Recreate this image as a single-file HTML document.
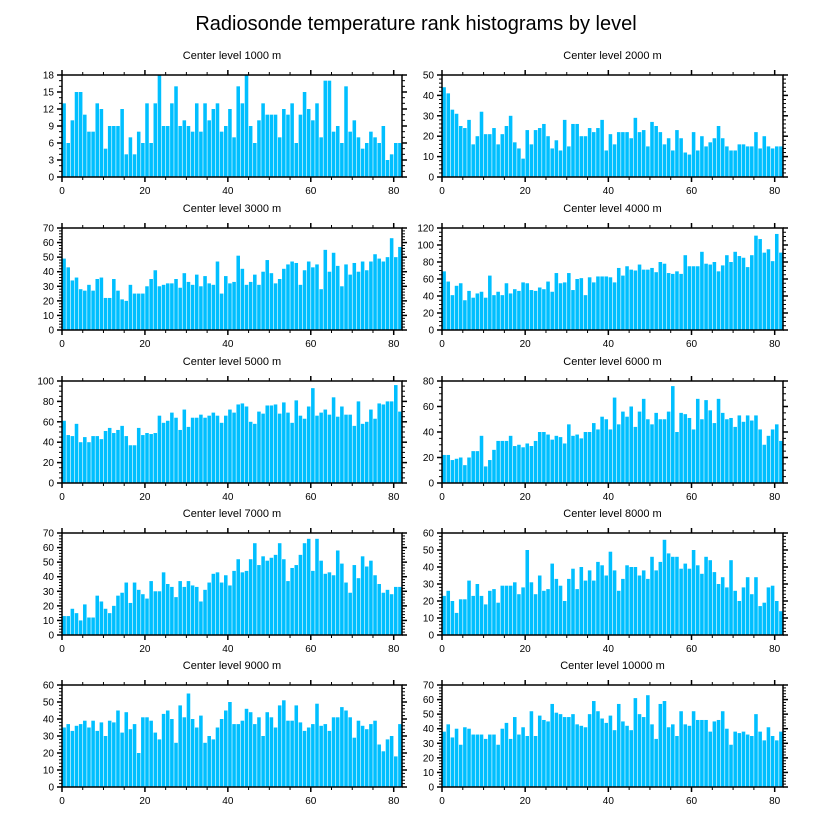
<!DOCTYPE html>
<html><head><meta charset="utf-8"><style>
html,body{margin:0;padding:0;background:#fff;}
svg{display:block;font-family:"Liberation Sans",sans-serif;}
</style></head><body>
<svg id="chart" width="822" height="824" viewBox="0 0 822 824" xmlns="http://www.w3.org/2000/svg">
<rect width="822" height="824" fill="#fff"/>
<text x="416" y="30" text-anchor="middle" font-size="20">Radiosonde temperature rank histograms by level</text>
</svg>
<script>
const levels = [1000,2000,3000,4000,5000,6000,7000,8000,9000,10000];
const yMax = [18,50,70,120,100,80,70,60,60,70];
const yStep = [3,10,10,20,20,20,10,10,10,10];
const xTicks = [0,20,40,60,80];
const s1000 = [13,6,10,15,15,11,8,8,13,12,5,9,9,9,12,4,7,4,8,6,13,6,13,18,9,9,13,16,9,10,9,8,13,8,13,10,12,13,8,9,12,7,16,13,18,9,6,10,13,11,11,11,7,12,11,13,6,11,15,12,10,13,7,17,17,8,9,6,16,8,10,7,5,6,8,7,6,9,3,4,6,6];
const s2000 = [44,41,33,31,25,24,28,16,20,32,21,21,24,16,21,25,30,17,14,9,23,16,23,24,26,20,14,18,13,28,15,26,26,20,20,24,22,24,28,13,21,16,22,22,22,19,29,22,23,15,27,25,22,16,19,13,23,19,12,11,22,13,20,15,17,19,25,19,15,13,13,16,16,15,15,22,14,20,15,14,15,15];
const s3000 = [49,43,34,36,28,27,31,27,35,36,22,22,35,27,21,20,31,25,25,25,30,35,41,30,31,32,32,35,29,39,33,31,38,30,37,32,31,47,25,37,32,33,51,42,31,33,38,31,40,48,39,32,35,42,45,47,46,31,41,47,43,45,28,55,40,53,44,30,45,38,46,40,47,41,47,52,49,47,50,63,50,57];
const s4000 = [69,57,41,52,55,35,46,38,43,45,38,64,41,45,41,55,43,48,46,56,55,47,46,50,48,57,45,67,55,56,67,47,60,61,41,62,56,63,63,63,62,56,73,64,75,71,70,77,71,71,73,68,80,78,67,66,69,66,88,75,75,75,92,78,77,80,69,76,88,80,92,87,85,74,88,111,107,91,95,81,113,91];
const s5000 = [61,47,46,58,40,45,40,46,46,43,51,54,49,52,56,46,37,37,54,47,49,48,49,66,59,61,69,64,52,72,55,64,64,67,64,66,69,66,59,66,72,69,77,78,75,60,58,70,68,76,76,77,68,79,69,59,81,66,63,75,93,66,69,72,67,84,65,75,67,67,56,80,58,60,72,63,78,77,80,80,96,70];
const s6000 = [22,22,18,19,20,14,20,25,25,37,13,18,26,33,33,33,37,29,30,28,31,29,33,40,40,38,34,37,36,31,46,37,38,35,40,40,47,42,52,50,42,67,46,56,52,60,44,56,66,50,46,55,50,50,56,76,40,55,54,51,42,66,50,65,57,47,66,55,50,51,44,53,48,53,49,53,42,30,37,42,46,33];
const s7000 = [13,13,18,15,10,21,12,12,27,23,18,15,20,27,29,36,22,36,31,28,25,37,30,30,43,35,33,26,37,33,37,34,33,23,31,36,42,43,36,41,34,44,52,43,44,52,63,48,54,51,53,55,63,52,37,46,48,55,63,66,44,66,51,42,43,41,58,49,36,29,48,39,54,47,51,41,35,29,31,28,33,33];
const s8000 = [23,26,20,13,21,21,32,23,30,23,18,26,27,19,29,29,29,31,24,28,50,31,24,35,26,27,42,33,29,20,33,39,27,40,32,38,32,43,41,35,49,38,26,33,41,40,40,35,38,33,46,38,43,56,48,46,46,39,42,39,50,41,36,46,44,37,30,34,28,44,26,20,28,34,24,34,17,19,28,29,20,14];
const s9000 = [35,37,33,36,37,39,35,39,33,38,30,39,38,45,32,44,34,37,20,41,41,39,32,28,43,45,40,26,48,41,55,40,35,42,26,30,28,35,40,45,50,37,37,39,46,44,37,41,30,44,41,35,48,51,39,39,48,38,33,35,37,49,36,37,33,41,41,47,45,41,29,39,36,34,37,39,25,21,28,30,18,37];
const s10000 = [38,43,34,40,29,41,40,36,36,36,33,36,36,29,40,44,33,48,36,41,35,52,35,49,46,45,57,51,50,48,48,50,43,42,41,50,59,52,47,44,49,39,57,45,42,39,61,50,48,63,43,33,57,59,41,43,35,52,43,42,52,46,46,46,38,45,46,52,40,29,38,37,38,36,35,50,38,32,41,35,32,38];
const series = [s1000,s2000,s3000,s4000,s5000,s6000,s7000,s8000,s9000,s10000];

const NS = "http://www.w3.org/2000/svg";
const svg = document.getElementById('chart');
const colL = [62,442], colW = [340,341];
const rowT = [75,228,381,533,685], rowH = 102;
const XMAX = 82;
function mk(tag, attrs, parent){ const e=document.createElementNS(NS,tag); for(const k in attrs) e.setAttribute(k,attrs[k]); (parent||svg).appendChild(e); return e; }

series.forEach((vals, p) => {
  const col = p % 2, row = Math.floor(p/2);
  const L = colL[col], W = colW[col], T = rowT[row], B = T + rowH;
  const xs = v => L + v / XMAX * W;
  const ys = v => B - v / yMax[p] * rowH;
  const g = mk('g', {});
  
  
  const t = mk('text', {x: L + W/2, y: T - 16, 'text-anchor':'middle', 'font-size':'11'}, g);
  
  
  t.textContent = 'Center level ' + levels[p] + ' m';
  vals.forEach((v, i) => {
    const r = mk('rect', {x: xs(i)+0.3, y: ys(v), width: xs(i+1)-xs(i)-0.6, height: B - ys(v), fill:'#00bfff'}, g);
    
    
  });
  const fr = mk('rect', {x:L, y:T, width:W, height:rowH, fill:'none', stroke:'#000', 'stroke-width':'1.5'}, g);
  
  
  // x ticks
  for (let v = 0; v <= 80; v += 5) {
    const maj = v % 20 === 0, len = maj ? 5 : 3, x = xs(v);
    mk('line', {x1:x, x2:x, y1:B, y2:B+len, stroke:'#000', 'stroke-width': maj?1.5:1}, g);
    mk('line', {x1:x, x2:x, y1:T, y2:T-len, stroke:'#000', 'stroke-width': maj?1.5:1}, g);
  }
  xTicks.forEach(v => {
    const tx = mk('text', {x: xs(v), y: B+17, 'text-anchor':'middle', 'font-size':'10'}, g);
    
    
    tx.textContent = v;
  });
  // y ticks
  const minor = yStep[p] / (yStep[p] === 3 ? 3 : (yStep[p] === 20 ? 4 : 5));
  for (let k = 0; k * minor <= yMax[p] + 1e-9; k++) {
    const v = k * minor, y = ys(v);
    const maj = Math.abs(v / yStep[p] - Math.round(v / yStep[p])) < 1e-6, len = maj ? 5 : 3;
    mk('line', {x1:L, x2:L-len, y1:y, y2:y, stroke:'#000', 'stroke-width': maj?1.5:1}, g);
    mk('line', {x1:L+W, x2:L+W+len, y1:y, y2:y, stroke:'#000', 'stroke-width': maj?1.5:1}, g);
    if (maj) {
      const ty = mk('text', {x: L-8, y: y+3.5, 'text-anchor':'end', 'font-size':'10'}, g);
      
      
      ty.textContent = Math.round(v);
    }
  }
});
</script>
</body></html>
